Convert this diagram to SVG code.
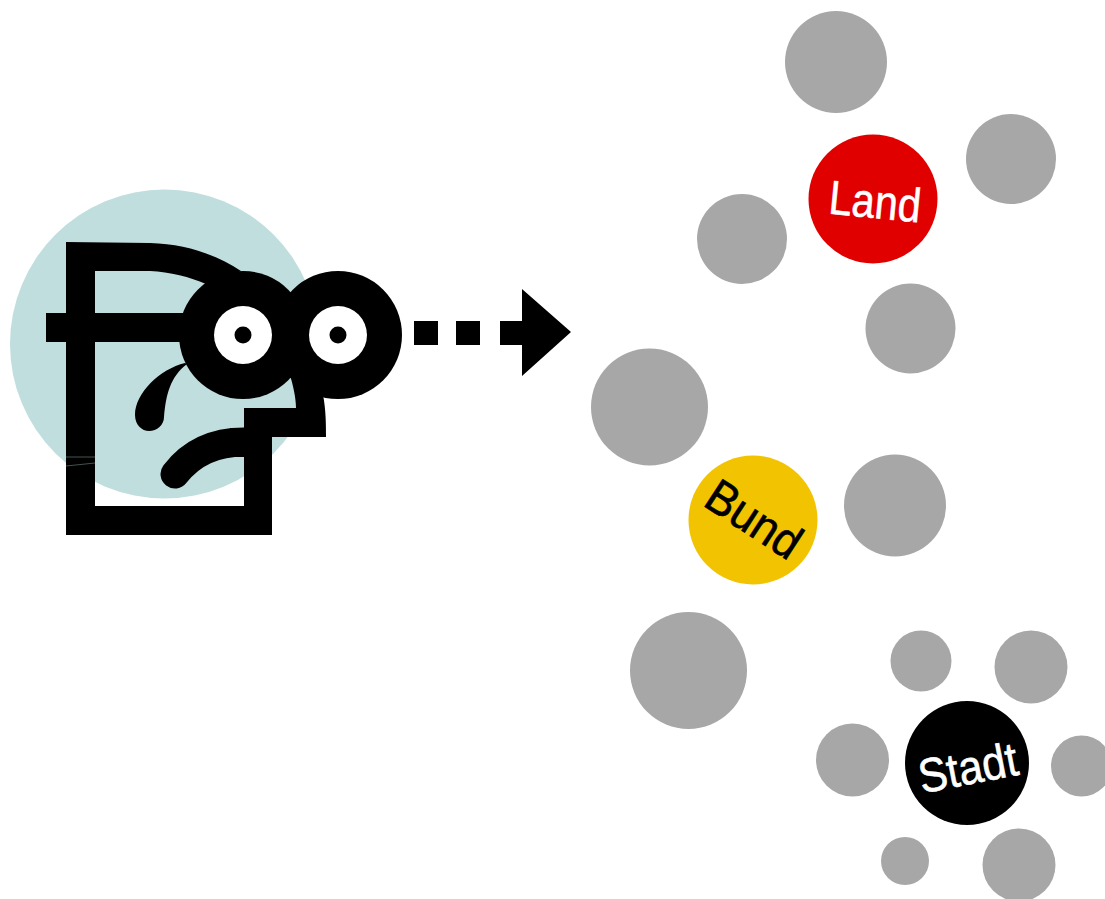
<svg xmlns="http://www.w3.org/2000/svg" width="1105" height="899" viewBox="0 0 1105 899">
<style>
.g{fill:#a7a7a7}
.k{fill:#000}
.w{fill:#fff}
text{font-family:"Liberation Sans",Arial,sans-serif;font-size:48px;text-anchor:middle;stroke-width:.6px}
</style>
<rect width="1105" height="899" fill="#fff"/>
<g id="viewer">
<circle cx="164.500" cy="344" r="154.500" fill="#c0dede"/>
<path class="k" d="M66,242 L150,243 C185,244 215,254 241,271 L206,284 C190,277 170,272 150,271 L95,271 L95,313 L190,313 L190,342 L95,342 L95,506 L244,506 L244,408 L296,408 C296,398 293,385 290,375 L323,395 C326,410 326,425 326,437 L272,437 L272,535 L66,535 L66,342 L46,342 L46,313 L66,313 Z"/>
<path d="M66,457 L95,457 M66,466 L95,463" stroke="#6f8a8a" stroke-width=".6" fill="none"/>
<circle class="k" cx="243" cy="335" r="64"/>
<circle class="k" cx="338" cy="335" r="64"/>
<circle class="w" cx="243" cy="335" r="29"/>
<circle class="w" cx="338" cy="335" r="29"/>
<circle class="k" cx="243" cy="335" r="8.500"/>
<circle class="k" cx="338" cy="335" r="8.500"/>
<path class="k" d="M185,363 C160,369 135,393 135,415 C135,425 142,431 149,431 C157,431 164,425 164,417 C166,395 170,377 187,364 Z"/>
<path d="M175,474 C192,452 215,442 244,442" fill="none" stroke="#000" stroke-width="29" stroke-linecap="round"/>
<rect class="k" x="230" y="428" width="20" height="29"/>
</g>
<g id="connectors">
<rect class="k" x="414" y="321" width="24" height="24"/>
<rect class="k" x="456" y="321" width="24" height="24"/>
<path class="k" d="M500,321 L522,321 L522,289 L571,332 L522,376 L522,345 L500,345 Z"/>
</g>
<g id="others">
<circle class="g" cx="836" cy="62" r="51"/>
<circle class="g" cx="1011" cy="159" r="45"/>
<circle class="g" cx="742" cy="239" r="45"/>
<circle class="g" cx="910.500" cy="328.500" r="45"/>
<circle class="g" cx="649.500" cy="407" r="58.500"/>
<circle class="g" cx="895" cy="505.500" r="51"/>
<circle class="g" cx="688.500" cy="670.500" r="58.500"/>
<circle class="g" cx="921" cy="661" r="30.500"/>
<circle class="g" cx="1031" cy="667" r="36.500"/>
<circle class="g" cx="852.500" cy="760" r="36.500"/>
<circle class="g" cx="1081.500" cy="766" r="30.500"/>
<circle class="g" cx="905" cy="861" r="24"/>
<circle class="g" cx="1019" cy="865" r="36.500"/>
</g>
<g id="land">
<circle cx="873" cy="199" r="64.500" fill="#e10000"/>
<text class="w" stroke="#fff" transform="translate(873.500,218) rotate(5.500)" textLength="92" lengthAdjust="spacingAndGlyphs">Land</text>
</g>
<g id="bund">
<circle cx="753" cy="520" r="64.500" fill="#f1c300"/>
<text class="k" stroke="#000" transform="translate(745,533) rotate(33)" textLength="104" lengthAdjust="spacingAndGlyphs">Bund</text>
</g>
<g id="stadt">
<circle class="k" cx="967" cy="763" r="62"/>
<text class="w" stroke="#fff" transform="translate(971,784) rotate(-11)" textLength="100" lengthAdjust="spacingAndGlyphs">Stadt</text>
</g>
</svg>
